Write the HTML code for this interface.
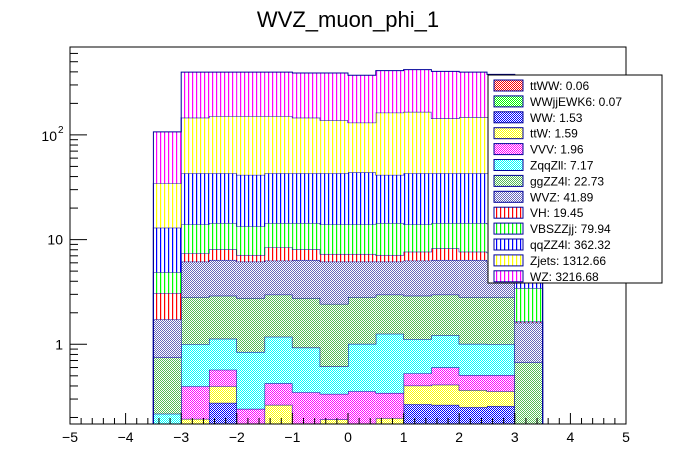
<!DOCTYPE html>
<html><head><meta charset="utf-8"><style>
body{margin:0;background:#fff;}
svg{display:block;font-family:"Liberation Sans",sans-serif;}
</style></head><body>
<svg id="c" width="696" height="472" viewBox="0 0 696 472">
<defs>
</defs>
<rect x="0" y="0" width="696" height="472" fill="#fff"/>
<text x="348" y="27" font-size="22" text-anchor="middle" fill="#000">WVZ_muon_phi_1</text>
<g id="plot"></g>
<g id="axes"></g>
<g id="legend"></g>
</svg>
<script>
const binEdges = [-3.5,-3,-2.5,-2,-1.5,-1,-0.5,0,0.5,1,1.5,2,2.5,3,3.5];
const names = ["ttWW","WWjjEWK6","WW","ttW","VVV","ZqqZll","ggZZ4l","WVZ","VH","VBSZZjj","qqZZ4l","Zjets","WZ"];
const legendLabels = ["ttWW: 0.06","WWjjEWK6: 0.07","WW: 1.53","ttW: 1.59","VVV: 1.96","ZqqZll: 7.17","ggZZ4l: 22.73","WVZ: 41.89","VH: 19.45","VBSZZjj: 79.94","qqZZ4l: 362.32","Zjets: 1312.66","WZ: 3216.68"];
const ttWW = [0.01,0.01,0.01,0.01,0.01,0.01,0.01,0.01,0.01,0.01,0.01,0.01,0.01,0.01];
const WWjj = [0.01,0.01,0.01,0.01,0.01,0.01,0.01,0.01,0.01,0.01,0.01,0.01,0.01,0.01];
const WW = [0.08,0.13,0.256,0.10,0.13,0.13,0.13,0.12,0.13,0.248,0.244,0.231,0.237,0.08];
const ttW = [0.02,0.044,0.121,0.04,0.114,0.02,0.042,0.02,0.047,0.135,0.147,0.115,0.099,0.02];
const VVV = [0.03,0.203,0.174,0.082,0.16,0.178,0.144,0.196,0.146,0.124,0.19,0.142,0.152,0.02];
const ZqqZll = [0.067,0.603,0.559,0.603,0.756,0.582,0.278,0.654,0.917,0.593,0.619,0.502,0.492,0.02];
const ggZZ = [0.531,1.83,1.78,1.925,1.80,1.84,1.816,1.82,1.72,1.79,1.76,1.82,1.83,0.51];
const WVZ = [0.98,3.33,3.48,3.39,3.31,3.62,3.73,3.33,3.18,3.38,3.41,3.56,3.33,0.94];
const VH = [1.36,1.24,1.68,0.97,2.15,1.68,1.13,1.13,0.97,1.37,1.86,1.27,1.34,0.04];
const VBS = [1.80,6.6,6.33,6.27,5.96,6.33,6.71,6.71,7.27,6.34,6.15,6.74,6.7,1.8];
const qqZZ = [8.1,29.0,28.6,28.1,28.6,28.6,29.0,29.9,27.1,29.0,28.6,28.6,28.8,9.5];
const Zjets = [21.5,103,108,109.5,108,103,95,87,121.5,123,101,105,105,21];
const WZ = [72.5,252,247,247,247,244,252,240,248,254,260,250,230,73];
const series = [ttWW,WWjj,WW,ttW,VVV,ZqqZll,ggZZ,WVZ,VH,VBS,qqZZ,Zjets,WZ];
const xTicks = [-5,-4,-3,-2,-1,0,1,2,3,4,5];
const yTickLabels = [["1",0],["10",1]];

const colors = ["#ff0000","#00ff00","#0000ff","#ffff00","#ff00ff","#00ffff","#55bb55","#6666bb","#ff0000","#00ff00","#0000ff","#ffff00","#ff00ff"];
const hatch = ["c","c","c","c","c","c","c","c","v","v","v","v","v"];

const NS="http://www.w3.org/2000/svg";
const X0=70,X1=626,Y0=47,Y1=424;
const ymin=Math.pow(10,(344.3-424)/104.7);
function xs(v){return X0+(v+5)/10*(X1-X0);}
function ys(v){ if(v<=ymin) return Y1; const y=344.3-104.7*Math.log10(v); return Math.max(Y0,Math.min(Y1,y));}
function mk(tag,attrs,parent){const e=document.createElementNS(NS,tag);for(const k in attrs)e.setAttribute(k,attrs[k]);parent.appendChild(e);return e;}

const svg=document.getElementById('c');
const defs=svg.querySelector('defs');
colors.forEach((col,i)=>{
  const w=hatch[i]==='c'?2:4;
  const p=mk('pattern',{id:'p'+i,patternUnits:'userSpaceOnUse',width:w,height:2},defs);
  mk('rect',{x:0,y:0,width:w,height:2,fill:'#fff'},p);
  if(hatch[i]==='c'){mk('rect',{x:0,y:0,width:1,height:1,fill:col},p);mk('rect',{x:1,y:1,width:1,height:1,fill:col},p);}
  else mk('rect',{x:0,y:0,width:1.2,height:2,fill:col},p);
});

const plot=document.getElementById('plot');
const nb=binEdges.length-1;
const cum=new Array(nb).fill(0);
series.forEach((s,k)=>{
  const g=mk('g',{},plot);
  
  
  let d='';
  for(let b=0;b<nb;b++){
    const lo=cum[b], hi=cum[b]+s[b];
    const yl=ys(lo), yh=ys(hi);
    const xa=xs(binEdges[b]), xb=xs(binEdges[b+1]);
    if(yl-yh>0){
      const r=mk('rect',{x:xa,y:yh,width:xb-xa,height:yl-yh,fill:'url(#p'+k+')'},g);
      
      
    }
    cum[b]=hi;
  }
  d='M'+xs(binEdges[0])+','+Y1;
  for(let b=0;b<nb;b++){const y=ys(cum[b]);d+=' L'+xs(binEdges[b])+','+y+' L'+xs(binEdges[b+1])+','+y;}
  d+=' L'+xs(binEdges[nb])+','+Y1;
  mk('path',{d:d,fill:'none',stroke:'#000099','stroke-width':1},g);
});

const axes=document.getElementById('axes');
mk('rect',{x:X0,y:Y0,width:X1-X0,height:Y1-Y0,fill:'none',stroke:'#000','stroke-width':1},axes);
for(let t=-5;t<=5.001;t+=0.2){
  const x=xs(t); const major=Math.abs(t-Math.round(t))<1e-6;
  mk('line',{x1:x,y1:Y1,x2:x,y2:Y1-(major?11:6),stroke:'#000','stroke-width':1},axes);
}
xTicks.forEach(t=>{
  const tx=mk('text',{x:xs(t),y:442,'font-size':14,'text-anchor':'middle',fill:'#000'},axes);
  tx.textContent=(t<0?'\u2212'+(-t):String(t));
  
  
});
for(let e=-1;e<=2;e++){
  for(let m=1;m<=9;m++){
    const v=m*Math.pow(10,e); if(v<ymin||v>Math.pow(10,(344.3-47)/104.7))continue;
    const y=ys(v);
    mk('line',{x1:X0,y1:y,x2:X0+(m===1?17:8),y2:y,stroke:'#000','stroke-width':1},axes);
  }
}
yTickLabels.forEach(([lab,e])=>{
  const tx=mk('text',{x:63,y:ys(Math.pow(10,e))+5,'font-size':14,'text-anchor':'end',fill:'#000'},axes);
  tx.textContent=lab;
  
  
});
{
  const tx=mk('text',{x:57,y:ys(100)+6,'font-size':14,'text-anchor':'end',fill:'#000'},axes);
  tx.textContent='10';
  
  
  const sp=mk('text',{x:58,y:ys(100)-2,'font-size':10,'text-anchor':'start',fill:'#000'},axes);
  sp.textContent='2';
  
  
}

const lg=document.getElementById('legend');


mk('rect',{x:488,y:75,width:174,height:208,fill:'#fff',stroke:'#000','stroke-width':1},lg);
names.forEach((n,i)=>{
  const y=75+5+i*15.9;
  const g=mk('g',{},lg);
  
  
  mk('rect',{x:494,y:y,width:29,height:11,fill:'url(#p'+i+')',stroke:'#000099','stroke-width':1},g);
  const t=mk('text',{x:530,y:y+10,'font-size':12,fill:'#000'},g);
  t.textContent=legendLabels[i];
});
</script>
</body></html>
